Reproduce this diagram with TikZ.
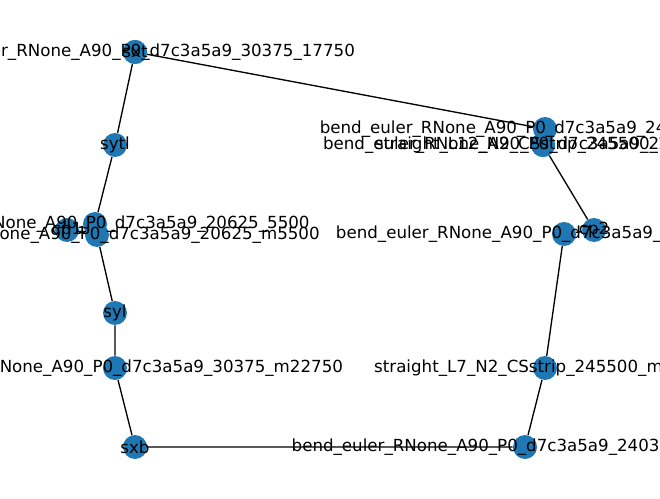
\documentclass[tikz,border=0pt]{standalone}
\usepackage{fontspec}
\setmainfont{DejaVu Sans}
\usepackage{xcolor}
\usepackage{tikz}
\usetikzlibrary{backgrounds}
\definecolor{nxblue}{HTML}{1F77B4}

\begin{document}
\begin{tikzpicture}[x=0.75pt,y=-0.75pt,
  vtx/.style={circle,fill=nxblue,draw=none,minimum size=18pt,inner sep=0pt},
  lbl/.style={inner sep=0pt,font=\fontsize{12.5}{15}\selectfont},
  wire/.style={black,line width=1pt}]
  \useasboundingbox (0,0) rectangle (660,499);
  % left arm
  \node[vtx] (b30375p) at (135,52) {};
  \node[vtx] (sxt) at (135,52) {};
  \node[vtx] (sytl) at (115,145) {};
  \node[vtx] (cp1) at (67,230) {};
  \node[vtx] (b20625p) at (95,224) {};
  \node[vtx] (b20625m) at (97,235) {};
  \node[vtx] (syl) at (115,313) {};
  \node[vtx] (b30375m) at (115,368) {};
  \node[vtx] (sxb) at (135,447) {};
  % right arm
  \node[vtx] (b240375m) at (525,447) {};
  \node[vtx] (sybr) at (545,368) {};
  \node[vtx] (b250375m) at (564,234) {};
  \node[vtx] (cp2) at (594,230) {};
  \node[vtx] (b240375p) at (545,129) {};
  \node[vtx] (sytr) at (543,145) {};
  \node[vtx] (b250375p) at (543,145) {};
  \begin{pgfonlayer}{background}
    \draw[wire] (cp1) -- (b20625p) -- (sytl) -- (b30375p) -- (sxt) -- (b240375p) -- (sytr) -- (b250375p) -- (cp2);
    \draw[wire] (cp1) -- (b20625m) -- (syl) -- (b30375m) -- (sxb) -- (b240375m) -- (sybr) -- (b250375m) -- (cp2);
  \end{pgfonlayer}
  % labels on top
  \node[lbl] (t-b30375p) at (b30375p) {bend\_euler\_RNone\_A90\_P0\_d7c3a5a9\_30375\_17750};
  \node[lbl] (t-sxt) at (sxt) {sxt};
  \node[lbl] (t-sytl) at (sytl) {sytl};
  \node[lbl] (t-cp1) at (cp1) {cp1};
  \node[lbl] (t-b20625p) at (b20625p) {bend\_euler\_RNone\_A90\_P0\_d7c3a5a9\_20625\_5500};
  \node[lbl] (t-b20625m) at (b20625m) {bend\_euler\_RNone\_A90\_P0\_d7c3a5a9\_20625\_m5500};
  \node[lbl] (t-syl) at (syl) {syl};
  \node[lbl] (t-b30375m) at (b30375m) {bend\_euler\_RNone\_A90\_P0\_d7c3a5a9\_30375\_m22750};
  \node[lbl] (t-sxb) at (sxb) {sxb};
  \node[lbl] (t-b240375m) at (b240375m) {bend\_euler\_RNone\_A90\_P0\_d7c3a5a9\_240375\_m22750};
  \node[lbl] (t-sybr) at (sybr) {straight\_L7\_N2\_CSstrip\_245500\_m13500};
  \node[lbl] (t-b250375m) at (b250375m) {bend\_euler\_RNone\_A90\_P0\_d7c3a5a9\_250375\_m5500};
  \node[lbl] (t-cp2) at (cp2) {cp2};
  \node[lbl] (t-b240375p) at (b240375p) {bend\_euler\_RNone\_A90\_P0\_d7c3a5a9\_240375\_17750};
  \node[lbl] (t-sytr) at (sytr) {straight\_L12\_N2\_CSstrip\_245500\_11625};
  \node[lbl] (t-b250375p) at (b250375p) {bend\_euler\_RNone\_A90\_P0\_d7c3a5a9\_250375\_5500};
\end{tikzpicture}
\end{document}
